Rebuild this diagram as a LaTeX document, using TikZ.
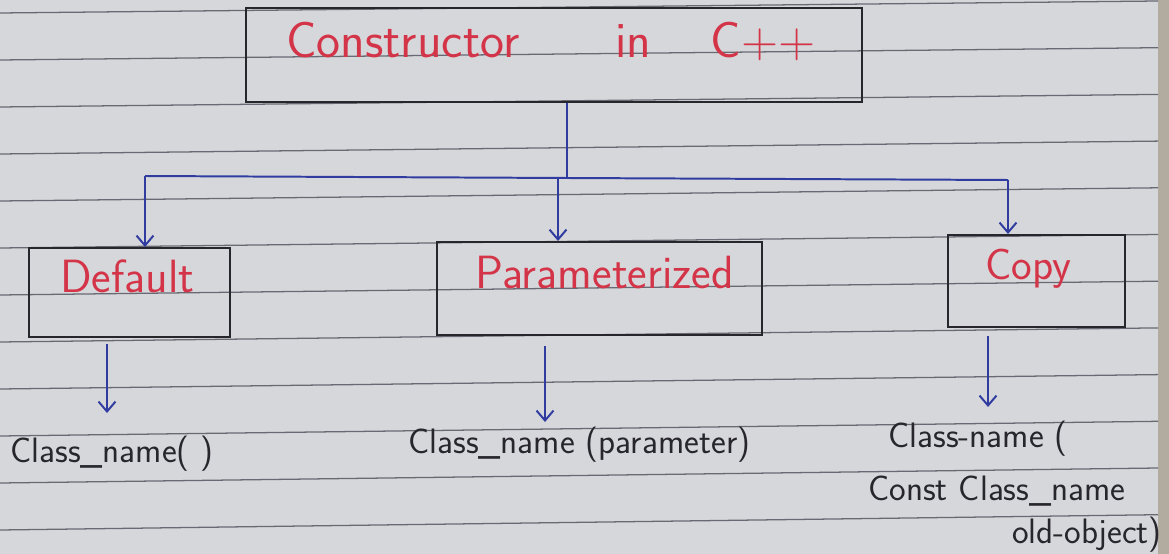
\documentclass[tikz,border=0pt]{standalone}
\usetikzlibrary{arrows.meta}
\definecolor{paper}{RGB}{214,215,219}
\definecolor{tablecol}{RGB}{178,172,160}
\definecolor{rulecol}{RGB}{105,105,115}
\definecolor{ink}{RGB}{38,38,44}
\definecolor{redink}{RGB}{212,52,72}
\definecolor{blueink}{RGB}{48,60,160}
\begin{document}
\begin{tikzpicture}[x=0.708pt,y=-0.708pt,
  box/.style={draw=ink,line width=1.4pt,inner sep=0pt},
  lbl/.style={inner sep=0pt,anchor=base west},
  redtxt/.style={lbl,text=redink,font=\sffamily\fontsize{33}{37}\selectfont},
  blktxt/.style={lbl,text=ink,font=\sffamily\fontsize{25}{29}\selectfont},
  link/.style={draw=blueink,line width=1.4pt},
  arr/.style={link,-{Straight Barb[length=7pt,width=12pt]}},
  ruleline/.style={draw=rulecol,line width=0.9pt}]
\useasboundingbox (0,0) rectangle (1169,554);
\fill[paper] (0,0) rectangle (1169,554);
\fill[tablecol] (1158,0) rectangle (1169,554);
\foreach \k in {0,...,11} \draw[ruleline] (0,{13+47*\k}) -- (1158,{1+46.7*\k});
% boxes
\node[box,minimum width=616*0.708pt,minimum height=94*0.708pt] (top) at (554,55) {};
\node[box,minimum width=201*0.708pt,minimum height=89*0.708pt] (def) at (129.5,292.5) {};
\node[box,minimum width=325*0.708pt,minimum height=93*0.708pt] (par) at (599.5,288.5) {};
\node[box,minimum width=177*0.708pt,minimum height=92*0.708pt] (cop) at (1036.5,281) {};
% box texts
\node[redtxt,font=\sffamily\fontsize{36}{40}\selectfont] (topt) at (286,58) {Constructor\hspace{68pt}in\hspace{42pt}C++};
\node[redtxt] (deft) at (60,293) {Default};
\node[redtxt] (part) at (475,288) {Parameterized};
\node[redtxt,font=\sffamily\fontsize{31}{35}\selectfont] (copt) at (985,280) {Copy};
% bottom texts
\node[blktxt] (t1) at (10,462) {Class\_name( )};
\node[blktxt] (t2) at (408,453) {Class\_name (parameter)};
\node[blktxt] (t3a) at (888,447) {Class-name (};
\node[blktxt] (t3b) at (868,500) {Const Class\_name};
\node[blktxt] (t3c) at (1012,543) {old-object)};
% upper connectors
\coordinate (hl) at (145,176);
\coordinate (hub) at (567,178);
\coordinate (hp) at (558,178);
\coordinate (hr) at (1008,180);
\draw[link] (top.south -| hub) -- (hub);
\draw[link] (hl) -- (hub) -- (hr);
\draw[arr] (hl) -- (hl |- def.north);
\draw[arr] (hp) -- (hp |- par.north);
\draw[arr] (hr) -- (hr |- cop.north);
% lower connectors
\coordinate (d1) at (107,413);
\coordinate (d2) at (545,422);
\coordinate (d3) at (988,407);
\draw[arr,shorten <=4pt] (def.south -| d1) -- (d1);
\draw[arr,shorten <=7pt] (par.south -| d2) -- (d2);
\draw[arr,shorten <=6pt] (cop.south -| d3) -- (d3);
\end{tikzpicture}
\end{document}
